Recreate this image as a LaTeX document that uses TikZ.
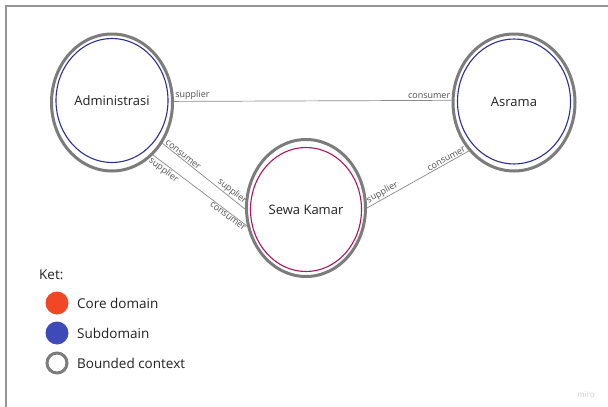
\documentclass[tikz,border=0pt]{standalone}
\usepackage{fontspec}
\setmainfont{Open Sans}
\usetikzlibrary{shapes.geometric}
\definecolor{bcgray}{HTML}{7C7C7C}
\definecolor{subblue}{HTML}{2E3192}
\definecolor{coremag}{HTML}{B0155E}
\definecolor{legorange}{HTML}{F24726}
\definecolor{legblue}{HTML}{3E4AB8}
\definecolor{txt}{HTML}{222222}
\definecolor{lbl}{HTML}{505050}
\definecolor{conn}{HTML}{8A8A8A}
\tikzset{
  outerbc/.style={ellipse, draw=bcgray, line width=3pt, inner sep=0pt},
  innersub/.style={ellipse, draw=subblue, line width=1.1pt, inner sep=0pt, text=txt, font=\fontsize{13}{15}\selectfont},
  innercore/.style={ellipse, draw=coremag, line width=1.1pt, inner sep=0pt, text=txt, font=\fontsize{13}{15}\selectfont},
  connector/.style={draw=conn, line width=0.7pt},
  rel/.style={font=\fontsize{9}{10}\selectfont, text=lbl, inner sep=1pt},
  legtext/.style={anchor=west, text=txt, font=\fontsize{13.5}{15}\selectfont, inner sep=0pt},
  frame/.style={draw=bcgray!80, line width=1.4pt}
}
\begin{document}
\begin{tikzpicture}[x=1pt,y=-1pt]
\useasboundingbox (0,0) rectangle (608,407);
\fill[white] (0,0) rectangle (608,407);
% frame
\coordinate (fbl) at (6,407);
\coordinate (ftl) at (6,6);
\coordinate (ftr) at (608,6);
\draw[frame] (fbl) -- (ftl) -- (ftr);

% bounded contexts
\node[outerbc, minimum width=121pt, minimum height=137pt] (adm) at (112,102.5) {};
\node[innersub, minimum width=112pt, minimum height=124pt] (admin) at (112,100.5) {Administrasi};

\node[outerbc, minimum width=122pt, minimum height=137pt] (asr) at (514,102.5) {};
\node[innersub, minimum width=113pt, minimum height=125pt] (asrama) at (514,101.5) {Asrama};

\node[outerbc, minimum width=119pt, minimum height=137pt] (sew) at (306,208) {};
\node[innercore, minimum width=111pt, minimum height=124pt] (sewa) at (306,209.5) {Sewa Kamar};

% connectors
\draw[connector] (adm.1.2) -- (asr.178.8)
  node[rel, pos=0, anchor=south west] {supplier}
  node[rel, pos=1, anchor=south east] {consumer};

\draw[connector] (adm.-39) -- (sew.181)
  node[rel, pos=0.22, sloped, above] {consumer}
  node[rel, pos=0.80, sloped, above] {supplier};

\draw[connector] (adm.-52) -- (sew.197)
  node[rel, pos=0.15, sloped, below] {supplier}
  node[rel, pos=0.82, sloped, below] {consumer};

\draw[connector] (sew.0) -- (asr.227)
  node[rel, pos=0.18, sloped, above] {supplier}
  node[rel, pos=0.8, sloped, above] {consumer};

% legend
\node[legtext] (ket) at (39,275) {Ket:};
\node[circle, fill=legorange, minimum size=23pt, inner sep=0pt] (lcore) at (57,303) {};
\node[legtext] (tcore) at (77,303) {Core domain};
\node[circle, fill=legblue, minimum size=23pt, inner sep=0pt] (lsub) at (57,333) {};
\node[legtext] (tsub) at (77,333) {Subdomain};
\node[circle, draw=bcgray, line width=3pt, minimum size=20pt, inner sep=0pt] (lbc) at (57,363) {};
\node[legtext] (tbc) at (77,363) {Bounded context};

\node[text=black!20, font=\fontsize{8}{9}\selectfont, inner sep=0pt] (miro) at (586,395) {miro};
\end{tikzpicture}
\end{document}
